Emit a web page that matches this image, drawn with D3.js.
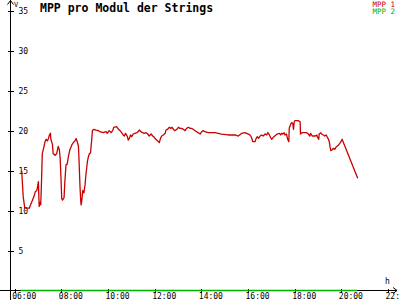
<!DOCTYPE html>
<html>
<head>
<meta charset="utf-8">
<script src="https://cdn.jsdelivr.net/npm/d3@7"></script>
<style>
  body { margin: 0; background: #fff; }
  svg { display: block; }
  text { font-family: "DejaVu Sans Mono", monospace; }
</style>
</head>
<body>
<div id="chart"></div>
<script>
// MPP pro Modul der Strings
const seriesNames = ['MPP 1', 'MPP 2'];
const seriesColors = ['#c80000', '#00b400'];

const mpp1Times = [
  '06:18', '06:22', '06:26', '06:38', '06:39', '06:45', '06:50', '06:53', '06:57', '06:59',
  '07:01', '07:03', '07:05', '07:07', '07:09', '07:11', '07:15', '07:18', '07:21', '07:24',
  '07:27', '07:29', '07:32', '07:33', '07:37', '07:39', '07:44', '07:48', '07:52', '07:55',
  '07:57', '07:59', '08:01', '08:03', '08:07', '08:09', '08:12', '08:15', '08:18', '08:22',
  '08:27', '08:31', '08:35', '08:38', '08:41', '08:44', '08:45', '08:48', '08:50', '08:51',
  '08:53', '08:55', '08:58', '09:01', '09:03', '09:07', '09:09', '09:12', '09:15', '09:18',
  '09:20', '09:24', '09:29', '09:35', '09:39', '09:48', '09:55', '09:58', '10:03', '10:08',
  '10:12', '10:15', '10:22', '10:27', '10:31', '10:35', '10:39', '10:42', '10:45', '10:50',
  '10:52', '10:55', '10:58', '11:01', '11:05', '11:09', '11:15', '11:21', '11:24', '11:29',
  '11:33', '11:38', '11:42', '11:46', '11:51', '11:55', '11:59', '12:03', '12:08', '12:12',
  '12:15', '12:18', '12:22', '12:27', '12:29', '12:33', '12:38', '12:41', '12:45', '12:48',
  '12:52', '12:57', '13:01', '13:05', '13:09', '13:14', '13:18', '13:22', '13:27', '13:31',
  '13:35', '13:39', '13:44', '13:48', '13:52', '13:57', '14:01', '14:05', '14:09', '14:18',
  '14:35', '14:52', '15:09', '15:27', '15:35', '15:44', '15:52', '16:01', '16:05', '16:07',
  '16:10', '16:12', '16:18', '16:21', '16:24', '16:27', '16:31', '16:35', '16:39', '16:44',
  '16:48', '16:51', '16:55', '16:58', '17:01', '17:05', '17:09', '17:12', '17:15', '17:21',
  '17:24', '17:27', '17:29', '17:33', '17:35', '17:39', '17:42', '17:45', '17:46', '17:50',
  '17:52', '17:55', '17:57', '17:59', '18:01', '18:09', '18:14', '18:15', '18:19', '18:31',
  '18:35', '18:39', '18:41', '18:45', '18:53', '18:57', '18:58', '19:02', '19:03', '19:07',
  '19:09', '19:14', '19:17', '19:21', '19:24', '19:27', '19:29', '19:31', '19:33', '19:36',
  '19:39', '19:43', '19:46', '19:50', '19:53', '19:56', '19:59', '20:02', '20:42'
];
const mpp1Values = [
  15.0, 11.7, 10.3, 10.3, 10.5, 11.2, 11.8, 12.35, 12.5, 13.0,
  13.6, 10.5, 11.0, 10.7, 13.6, 17.1, 17.9, 18.6, 18.9, 18.7,
  19.0, 19.4, 19.65, 18.9, 18.3, 17.1, 16.9, 17.1, 18.0, 17.6,
  16.5, 14.2, 11.5, 11.3, 11.6, 13.6, 15.7, 15.8, 16.7, 17.6,
  18.2, 18.5, 18.7, 19.0, 18.6, 18.0, 16.9, 13.0, 11.1, 10.7,
  11.4, 12.5, 12.2, 13.2, 14.4, 16.1, 16.6, 17.1, 17.2, 18.8,
  20.0, 20.15, 20.05, 20.0, 19.85, 19.73, 19.85, 19.65, 19.98, 19.73,
  19.98, 20.4, 20.48, 20.15, 19.98, 19.73, 19.44, 19.31, 19.65, 19.23,
  18.81, 19.02, 19.44, 19.23, 19.56, 19.65, 19.73, 20.06, 19.85, 19.73,
  19.65, 19.73, 19.56, 19.31, 19.56, 19.31, 19.15, 18.9, 18.69, 18.48,
  19.02, 19.31, 19.44, 19.65, 20.06, 20.15, 20.4, 20.27, 20.4, 20.15,
  19.98, 20.15, 20.4, 20.27, 20.27, 20.15, 19.98, 20.27, 20.4, 20.27,
  20.27, 20.15, 19.98, 19.85, 19.73, 19.56, 19.85, 19.98, 19.85, 19.73,
  19.73, 19.56, 19.44, 19.44, 19.31, 19.65, 19.73, 19.56, 19.44, 19.31,
  19.02, 18.6, 18.6, 19.02, 19.23, 19.02, 19.31, 19.44, 19.31, 19.56,
  19.44, 19.73, 19.44, 19.15, 18.9, 19.15, 19.31, 19.44, 19.56, 19.65,
  19.44, 19.65, 19.56, 19.73, 19.44, 19.56, 18.9, 18.6, 20.27, 20.81,
  20.98, 20.9, 20.15, 21.1, 21.23, 21.23, 21.1, 19.56, 19.73, 19.73,
  19.56, 19.31, 19.65, 19.31, 19.31, 19.44, 19.23, 18.9, 19.56, 19.73,
  19.56, 19.44, 19.31, 19.44, 19.15, 18.9, 18.6, 17.98, 17.48, 17.56,
  17.77, 17.65, 17.9, 18.06, 18.19, 18.4, 18.6, 18.9, 14.02
];

const mpp2Times = ['06:15', '20:41'];
const mpp2Values = [0, 0];

const xTickLabels = ['06:00', '08:00', '10:00', '12:00', '14:00', '16:00', '18:00', '20:00', '22:00'];
const yTickValues = [5, 10, 15, 20, 25, 30, 35];

const width = 400;
const height = 300;
const parseTime = d3.timeParse('%H:%M');

const svg = d3.select('#chart')
  .append('svg')
  .attr('width', width)
  .attr('height', height);

svg.append('rect')
  .attr('width', width)
  .attr('height', height)
  .attr('fill', '#ffffff');

// Scales
const x = d3.scaleTime()
  .domain([parseTime('06:00'), parseTime('22:00')])
  .range([14.67, 388]);

const y = d3.scaleLinear()
  .domain([0, 35])
  .range([290.5, 10.5]);

const axisX = 10.5;
const axisY = y(0);

// Axis lines with arrows
const axes = svg.append('g')
  .attr('stroke', '#000')
  .attr('stroke-width', 1)
  .attr('fill', 'none')
  .attr('shape-rendering', 'crispEdges');

axes.append('line')
  .attr('x1', axisX).attr('x2', axisX)
  .attr('y1', 0).attr('y2', height);
axes.append('line')
  .attr('x1', 0).attr('x2', 397)
  .attr('y1', axisY).attr('y2', axisY);

svg.append('path')
  .attr('d', `M${axisX - 3},${4.5}L${axisX},${0.5}L${axisX + 3},${4.5}`)
  .attr('stroke', '#000')
  .attr('fill', 'none');
svg.append('path')
  .attr('d', `M393,${axisY - 3}L397,${axisY}L393,${axisY + 3}`)
  .attr('stroke', '#000')
  .attr('fill', 'none');

// Y axis ticks: labels right of the axis line, tick marks crossing
const yAxis = svg.append('g')
  .attr('transform', `translate(${axisX},0)`)
  .call(d3.axisRight(y).tickValues(yTickValues).tickSize(3).tickPadding(5));
yAxis.select('.domain').remove();
yAxis.selectAll('.tick line')
  .attr('x1', -3)
  .attr('shape-rendering', 'crispEdges');
yAxis.selectAll('.tick text')
  .attr('font-size', 8)
  .attr('font-family', '"DejaVu Sans Mono", monospace')
  .attr('fill', '#000');

// X axis ticks (labels sit against the bottom edge, as in the reference)
const xAxis = svg.append('g')
  .attr('transform', `translate(0,${axisY})`)
  .call(d3.axisBottom(x)
    .tickValues(xTickLabels.map(parseTime))
    .tickFormat(d3.timeFormat('%H:%M'))
    .tickSize(2));
xAxis.select('.domain').remove();
xAxis.selectAll('.tick line')
  .attr('y1', -2)
  .attr('shape-rendering', 'crispEdges');
xAxis.selectAll('.tick text')
  .attr('font-size', 8)
  .attr('font-family', '"DejaVu Sans Mono", monospace')
  .attr('fill', '#000')
  .attr('text-anchor', 'start')
  .attr('x', -3)
  .attr('y', 8.5)
  .attr('dy', 0);

// Unit labels
svg.append('text')
  .attr('x', 14)
  .attr('y', 7)
  .attr('font-size', 7)
  .text('V');
svg.append('text')
  .attr('x', 385)
  .attr('y', 284)
  .attr('font-size', 8)
  .text('h');

// Lines
const line = d3.line()
  .x(d => x(d.t))
  .y(d => y(d.v));

const series = [
  { times: mpp2Times, values: mpp2Values, color: seriesColors[1] },
  { times: mpp1Times, values: mpp1Values, color: seriesColors[0] }
];

series.forEach(s => {
  const pts = s.times.map((t, i) => ({ t: parseTime(t), v: s.values[i] }));
  svg.append('path')
    .datum(pts)
    .attr('d', line)
    .attr('fill', 'none')
    .attr('stroke', s.color)
    .attr('stroke-width', 1.3)
    .attr('stroke-linejoin', 'round');
});

// Title
svg.append('text')
  .attr('x', 40)
  .attr('y', 12)
  .attr('font-size', 11.5)
  .attr('font-weight', 'bold')
  .attr('fill', '#000')
  .text('MPP pro Modul der Strings');

// Legend, top right
seriesNames.forEach((name, i) => {
  svg.append('text')
    .attr('x', 395)
    .attr('y', 6.5 + i * 7.5)
    .attr('text-anchor', 'end')
    .attr('font-size', 7.5)
    .attr('fill', seriesColors[i])
    .text(name);
});
</script>
</body>
</html>
